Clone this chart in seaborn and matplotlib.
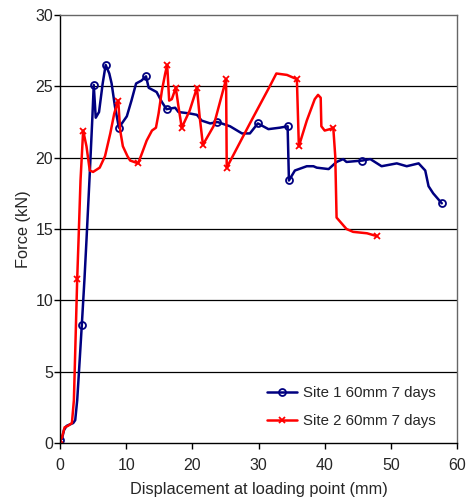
import matplotlib
matplotlib.use("Agg")
import matplotlib.pyplot as plt
import seaborn as sns
import pandas as pd

# Site 1 60mm 7 days
site1_x = [0.0, 0.3, 0.6, 1.0, 1.5, 2.0, 2.3, 2.6, 3.0, 3.3, 3.7, 4.0, 4.5, 4.9, 5.1, 5.4, 5.9, 6.45,
           6.9, 7.45, 7.8, 8.3, 8.9, 10.1, 10.8, 11.5, 12.3, 13.0, 13.4, 14.6, 15.4, 16.1, 17.4,
           17.9, 19.6, 20.7, 21.4, 22.7, 23.8, 25.7, 27.5, 28.7, 29.9, 31.5, 33.2, 34.4, 34.6,
           35.5, 37.3, 38.3, 38.8, 40.6, 41.8, 42.8, 43.3, 45.7, 46.9, 48.6, 50.9, 52.4, 54.2,
           55.2, 55.7, 56.4, 57.7]
site1_y = [0.2, 0.3, 0.9, 1.2, 1.3, 1.4, 1.6, 3.0, 6.0, 8.3, 11.5, 14.2, 18.9, 22.9, 25.1, 22.8, 23.2, 25.2,
           26.5, 25.9, 25.2, 23.6, 22.1, 22.9, 24.0, 25.2, 25.4, 25.7, 24.9, 24.6, 23.9, 23.4, 23.5,
           23.2, 23.1, 23.0, 22.6, 22.4, 22.5, 22.2, 21.7, 21.7, 22.4, 22.0, 22.1, 22.2, 18.4,
           19.1, 19.4, 19.4, 19.3, 19.2, 19.7, 19.9, 19.7, 19.8, 19.9, 19.4, 19.6, 19.4, 19.6,
           19.1, 18.0, 17.5, 16.8]
site1_marks = [0, 9, 14, 18, 22, 27, 31, 38, 42, 45, 46, 55, 64]

# Site 2 60mm 7 days
site2_x = [0.0, 0.3, 0.7, 1.2, 1.8, 2.1, 2.6, 2.8, 3.1, 3.5, 4.0, 4.5, 5.0, 6.0, 6.8, 7.6, 8.2, 8.8,
           9.1, 9.5, 10.2, 10.6, 11.8, 12.3, 13.1, 13.9, 14.5, 14.9, 15.4, 15.9, 16.2, 16.5, 16.9,
           17.5, 17.9, 18.4, 19.6, 20.7, 21.1, 21.6, 23.2, 25.1, 25.2, 28.7, 31.7, 32.7, 34.3,
           35.8, 36.1, 37.3, 38.5, 39.0, 39.4, 39.5, 40.0, 40.8, 41.3, 41.6, 41.8, 43.3, 44.3,
           46.4, 47.9]
site2_y = [0.2, 0.4, 1.1, 1.2, 1.4, 3.0, 11.5, 14.2, 18.4, 21.9, 20.8, 19.1, 19.0, 19.3, 20.1, 21.7, 23.1, 24.0,
           21.9, 20.8, 20.1, 19.8, 19.6, 20.2, 21.2, 21.9, 22.1, 23.1, 24.7, 25.9, 26.5, 24.0, 24.1,
           24.9, 23.6, 22.1, 23.3, 24.9, 22.9, 20.9, 22.2, 25.5, 19.3, 22.4, 25.0, 25.9, 25.8,
           25.5, 20.8, 22.6, 24.1, 24.4, 24.2, 22.2, 21.9, 22.0, 22.1, 20.1, 15.8, 15.0, 14.8,
           14.7, 14.5]
site2_marks = [0, 6, 9, 17, 22, 30, 33, 35, 37, 39, 41, 42, 47, 48, 56, 62]

x_ticks = [0, 10, 20, 30, 40, 50, 60]
y_ticks = [0, 5, 10, 15, 20, 25, 30]

sns.set_style("white")
plt.rcParams['font.family'] = ['Liberation Sans', 'DejaVu Sans']

fig = plt.figure(figsize=(4.67, 5.04), dpi=100)
ax = fig.add_axes([60/467, 1 - 443/504, (457 - 60)/467, (443 - 15)/504])

df1 = pd.DataFrame({"x": site1_x, "y": site1_y})
df2 = pd.DataFrame({"x": site2_x, "y": site2_y})

for yv in y_ticks[1:-1]:
    ax.axhline(yv, color="black", lw=0.9, zorder=0)

sns.lineplot(data=df1, x="x", y="y", sort=False, estimator=None, ax=ax,
             color="#000080", lw=1.8, marker="o", markevery=site1_marks,
             markersize=5, markerfacecolor="none", markeredgecolor="#000080",
             markeredgewidth=1.3, label="Site 1 60mm 7 days")
sns.lineplot(data=df2, x="x", y="y", sort=False, estimator=None, ax=ax,
             color="#FF0000", lw=1.8, marker="x", markevery=site2_marks,
             markersize=5, markeredgecolor="#FF0000", markeredgewidth=1.3,
             label="Site 2 60mm 7 days")

ax.set_xlim(0, 60)
ax.set_ylim(0, 30)
ax.set_xticks(x_ticks)
ax.set_yticks(y_ticks)
ax.tick_params(axis="both", direction="out", length=4, width=1, color="black",
               labelsize=11.5, left=True, bottom=True)
ax.tick_params(axis="x", pad=7)
ax.tick_params(axis="y", pad=1)
for s in ["left", "bottom"]:
    ax.spines[s].set_color("black")
    ax.spines[s].set_linewidth(1.0)
for s in ["right", "top"]:
    ax.spines[s].set_color("#666666")
    ax.spines[s].set_linewidth(1.0)

ax.set_xlabel("Displacement at loading point (mm)", fontsize=11.8, labelpad=6)
ax.set_ylabel("Force (kN)", fontsize=11.8, labelpad=3)

ax.legend(loc="lower right", bbox_to_anchor=(0.985, 0.0), frameon=False,
          fontsize=10.8, handlelength=2.0, handletextpad=0.4,
          labelspacing=0.95, borderaxespad=0.6)

fig.savefig("out.png", dpi=100)
